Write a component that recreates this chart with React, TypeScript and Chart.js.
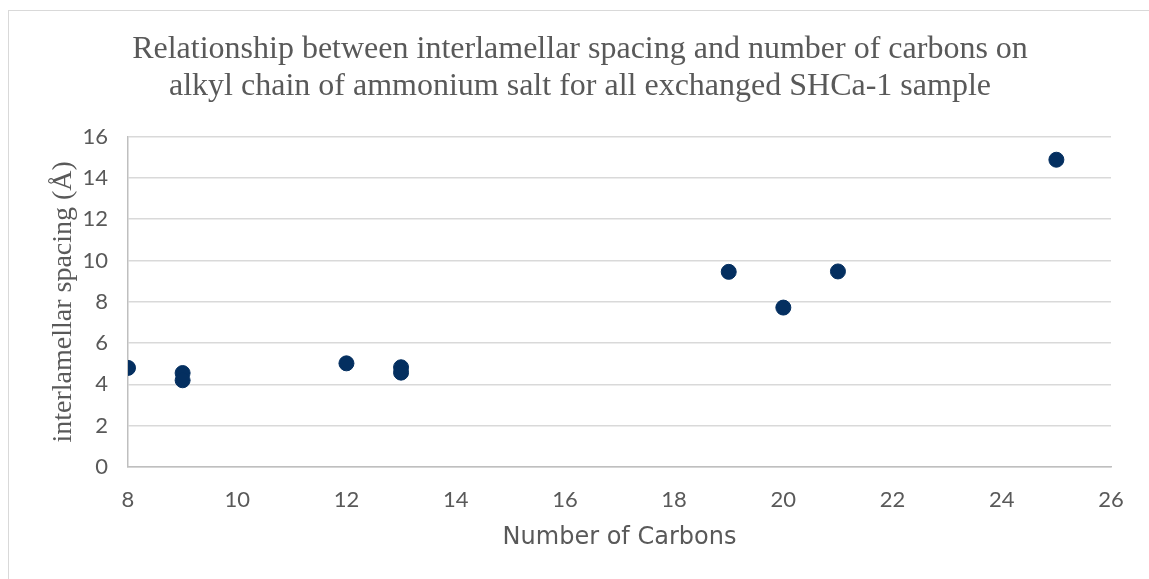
import React, { useEffect, useRef } from "react";
import { Chart, registerables } from "chart.js";

Chart.register(...registerables);

const carbons = [8, 9, 9, 12, 13, 13, 19, 20, 21, 25];
const spacing = [4.8, 4.55, 4.2, 5.02, 4.83, 4.57, 9.45, 7.72, 9.47, 14.88];
const titleLines = [
  "Relationship between interlamellar spacing and number of carbons on",
  "alkyl chain of ammonium salt for all exchanged SHCa-1 sample",
];
const xTitle = "Number of Carbons";
const yTitle = "interlamellar spacing (Å)";

const W = 1149;
const H = 579;

export default function App() {
  const ref = useRef<HTMLCanvasElement | null>(null);

  useEffect(() => {
    if (!ref.current) return;
    const sans = "Lato, 'Noto Sans', sans-serif";
    const wide = "'DejaVu Sans', Lato, sans-serif";
    const serif = "'Liberation Serif', 'Times New Roman', serif";
    const chart = new Chart(ref.current, {
      type: "scatter",
      data: {
        datasets: [
          {
            label: "spacing",
            data: carbons.map((x, i) => ({ x, y: spacing[i] })),
            backgroundColor: "#042f60",
            borderColor: "#042f60",
            pointRadius: 7.5,
            pointHoverRadius: 7.5,
          },
        ],
      },
      options: {
        responsive: false,
        animation: false,
        layout: { padding: { left: 49, right: 38, top: 0, bottom: 0 } },
        plugins: {
          legend: { display: false },
          tooltip: { enabled: false },
          title: {
            display: true,
            text: titleLines,
            color: "#595959",
            font: { family: serif, size: 32, weight: "normal", lineHeight: 1.15 },
            padding: { top: 31, bottom: 32 },
          },
        },
        scales: {
          x: {
            type: "linear",
            min: 8,
            max: 26,
            afterFit: (s: any) => {
              s.height = H - 467;
            },
            ticks: {
              stepSize: 2,
              color: "#595959",
              font: { family: sans, size: 22 },
              padding: 20,
            },
            grid: { display: false, drawTicks: false },
            border: { display: true, color: "#bfbfbf", width: 1.5 },
            title: {
              display: true,
              text: xTitle,
              color: "#595959",
              font: { family: wide, size: 24 },
              padding: { top: 0, bottom: 27 },
            },
          },
          y: {
            min: 0,
            max: 16,
            afterFit: (s: any) => {
              s.width = 128 - 49;
            },
            ticks: {
              stepSize: 2,
              color: "#595959",
              font: { family: sans, size: 22 },
              padding: 20,
            },
            grid: { color: "#d9d9d9", lineWidth: 1.5, drawTicks: false },
            border: { display: true, color: "#bfbfbf", width: 1.5 },
            title: {
              display: true,
              text: yTitle,
              color: "#595959",
              font: { family: serif, size: 28, lineHeight: 0.8 },
              padding: { top: 3, bottom: 0 },
            },
          },
        },
      },
    });
    return () => chart.destroy();
  }, []);

  return (
    <div style={{ position: "fixed", left: 0, top: 0, width: W, height: H, background: "#fff" }}>
      <canvas ref={ref} width={W} height={H} style={{ display: "block" }} />
      <div
        style={{
          position: "absolute",
          left: 8,
          top: 10,
          right: -10,
          bottom: -10,
          border: "1px solid #d9d9d9",
          pointerEvents: "none",
        }}
      />
    </div>
  );
}
